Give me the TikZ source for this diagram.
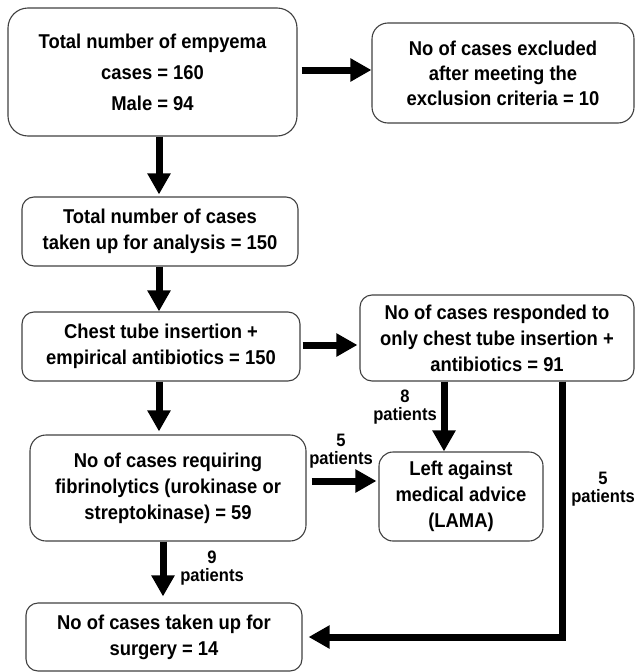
\documentclass[tikz,border=0pt]{standalone}
\usepackage{fontspec}
\setmainfont{Liberation Sans}[FakeStretch=0.92]
\usetikzlibrary{arrows.meta}
\begin{document}
\begin{tikzpicture}[x=1pt,y=-1pt,
 box/.style={draw=black!75, line width=1.1pt, rounded corners=12pt, align=center,
   font=\fontsize{20}{26}\selectfont\bfseries, inner sep=0pt},
 flow/.style={line width=7pt, line join=miter, -{Triangle[width=22pt,length=21pt]}},
 lbl/.style={align=center, font=\fontsize{18}{18}\selectfont\bfseries, inner sep=0pt}]
\useasboundingbox (0,0) rectangle (635,672);
\node[box, minimum width=289pt, minimum height=128pt, rounded corners=20pt,
  font=\fontsize{20}{31}\selectfont\bfseries] (b1) at (152.5,72)
  {Total number of empyema\\cases = 160\\Male = 94};
\node[box, minimum width=262pt, minimum height=100pt, rounded corners=16pt,
  font=\fontsize{20}{25}\selectfont\bfseries] (b2) at (503,73)
  {No of cases excluded\\after meeting the\\exclusion criteria = 10};
\node[box, minimum width=276pt, minimum height=69pt] (b3) at (160,231.5)
  {Total number of cases\\taken up for analysis = 150};
\node[box, minimum width=278pt, minimum height=69pt] (b4) at (161,346.5)
  {Chest tube insertion +\\empirical antibiotics = 150};
\node[box, minimum width=274pt, minimum height=86pt] (b5) at (497,338)
  {No of cases responded to\\only chest tube insertion +\\antibiotics = 91};
\node[box, minimum width=276pt, minimum height=106pt, rounded corners=16pt] (b6) at (168,488)
  {No of cases requiring\\fibrinolytics (urokinase or\\streptokinase) = 59};
\node[box, minimum width=164pt, minimum height=89pt, rounded corners=14pt] (b7) at (461,496.5)
  {Left against\\medical advice\\(LAMA)};
\node[box, minimum width=276pt, minimum height=68pt] (b8) at (164,637)
  {No of cases taken up for\\surgery = 14};

\draw[flow] ([xshift=4pt]b1.east |- 0,70) -- (b2.west |- 0,70);
\draw[flow] (b1.south -| 159,0) -- ([yshift=2pt]b3.north -| 159,0);
\draw[flow] (b3.south -| 159,0) -- (b4.north -| 159,0);
\draw[flow] ([xshift=2pt]b4.east |- 0,345) -- ([xshift=-2pt]b5.west |- 0,345);
\draw[flow] (b4.south -| 159,0) -- ([yshift=3pt]b6.north -| 159,0);
\draw[flow] (b5.south -| 444,0) -- (b7.north -| 444,0);
\draw[flow] ([xshift=5pt]b6.east |- 0,481) -- ([xshift=-2pt]b7.west |- 0,481);
\draw[flow] (b6.south -| 163,0) -- ([yshift=6pt]b8.north -| 163,0);
\draw[flow] (b5.south -| 562,0) |- ([xshift=6pt]b8.east);

\node[lbl] (l8) at (405,407) {8\\patients};
\node[lbl] (l5a) at (341,451) {5\\patients};
\node[lbl] (l5b) at (603,489) {5\\patients};
\node[lbl] (l9) at (212,568) {9\\patients};
\end{tikzpicture}
\end{document}
